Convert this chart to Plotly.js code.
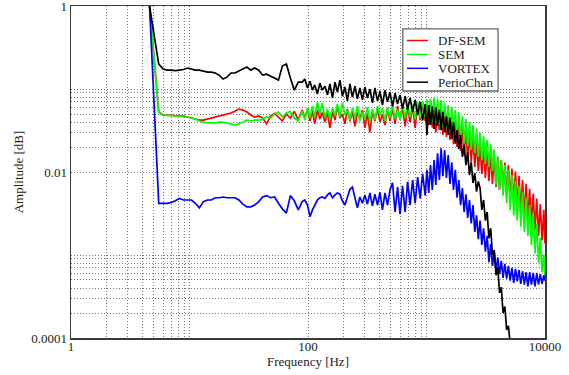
<!DOCTYPE html>
<html>
<head>
<meta charset="utf-8">
<script src="https://cdn.plot.ly/plotly-3.0.1.min.js"></script>
<style>
  html, body { margin: 0; padding: 0; background: #ffffff; }
  #chart { width: 569px; height: 375px; }
</style>
</head>
<body>
<div id="chart"></div>
<script>
// Frequency axis shared by all spectra [Hz]
const frequencies = [
  4.6, 5.5, 6.0, 6.5, 7.0, 7.6, 8.2, 8.9, 9.6, 10.4,
  11.2, 12.1, 13.1, 14.2, 15.3, 16.5, 17.8, 19.2, 20.7, 22.4,
  24.2, 26.1, 28.2, 30.5, 32.9, 35.5, 38.4, 41.4, 44.7, 48.3,
  52.2, 56.3, 60.8, 65.7, 71, 76.6, 82.8, 89.4,
  94, 99, 104, 109, 114, 120, 126, 132, 139, 146,
  153, 161, 169, 177, 186, 195, 205, 215, 226, 237,
  249, 261, 274, 288, 302, 317, 333, 350, 367, 386,
  405, 425, 446, 469, 492, 517, 543, 570, 598, 628,
  660, 693, 727, 764, 802, 842, 884, 928, 975,
  1009, 1044, 1081, 1119, 1158, 1198, 1240, 1284, 1329, 1375,
  1423, 1473, 1525, 1578, 1633, 1690, 1750, 1811, 1874, 1940,
  2008, 2078, 2151, 2226, 2304, 2385, 2468, 2555, 2644, 2736,
  2832, 2931, 3034, 3140, 3250, 3364, 3481, 3603, 3729, 3860,
  3995, 4135, 4279, 4429, 4584, 4745, 4911, 5083, 5260, 5445,
  5635, 5832, 6036, 6248, 6466, 6693, 6927, 7169, 7420, 7680,
  7949, 8227, 8515, 8813, 9121, 9441, 9771, 10000
];

// DF-SEM amplitude
const dfSem = [
  1.0, 0.0528, 0.0486, 0.0486, 0.0486, 0.048, 0.0473, 0.0473, 0.046, 0.0447,
  0.0435, 0.0423, 0.0423, 0.0435, 0.0447, 0.046, 0.0473, 0.0486, 0.050, 0.0514,
  0.054, 0.0574, 0.0558, 0.0528, 0.0486, 0.046, 0.0473, 0.0447, 0.038, 0.0473,
  0.051, 0.046, 0.0412, 0.050, 0.0447, 0.054, 0.0423, 0.0558,
  0.0447, 0.0574, 0.0412, 0.054, 0.038, 0.0558, 0.0435, 0.052, 0.040, 0.0528,
  0.0341, 0.054, 0.0423, 0.0624, 0.0447, 0.0500, 0.038, 0.0574, 0.0412, 0.054,
  0.0355, 0.0528, 0.044, 0.0558, 0.0341, 0.051, 0.030, 0.054, 0.041, 0.059,
  0.040, 0.0498, 0.0368, 0.0574, 0.0412, 0.0606, 0.038, 0.0624, 0.043, 0.059,
  0.0355, 0.0641, 0.040, 0.0624, 0.0341, 0.066, 0.0423, 0.068, 0.0412,
  0.068, 0.0368, 0.070, 0.0341, 0.066, 0.030, 0.0624, 0.0321, 0.059, 0.0279,
  0.0558, 0.0264, 0.051, 0.0243, 0.0473, 0.0216, 0.0435, 0.020, 0.040, 0.018,
  0.0355, 0.016, 0.0333, 0.0144, 0.0296, 0.0131, 0.0264, 0.0115, 0.0234, 0.0103,
  0.0211, 0.0095, 0.0194, 0.0085, 0.0184, 0.0078, 0.0174, 0.0072, 0.016, 0.0066,
  0.0152, 0.0061, 0.0139, 0.0056, 0.013, 0.0052, 0.0121, 0.0046, 0.011, 0.0042,
  0.0101, 0.0038, 0.009, 0.0034, 0.008, 0.003, 0.0072, 0.0026, 0.0063, 0.0023,
  0.0055, 0.002, 0.0048, 0.0017, 0.0041, 0.0015, 0.0035, 0.00138
];

// SEM amplitude
const sem = [
  1.0, 0.0526, 0.0486, 0.0486, 0.0479, 0.0473, 0.0473, 0.046, 0.046, 0.0447,
  0.0435, 0.0412, 0.040, 0.039, 0.039, 0.039, 0.040, 0.040, 0.039, 0.038,
  0.0368, 0.038, 0.040, 0.0423, 0.0412, 0.0423, 0.0423, 0.0435, 0.046, 0.0447,
  0.050, 0.0528, 0.046, 0.0514, 0.054, 0.0447, 0.0412, 0.054,
  0.0423, 0.059, 0.0447, 0.0624, 0.046, 0.070, 0.050, 0.068, 0.0447, 0.0570,
  0.0435, 0.059, 0.0473, 0.066, 0.046, 0.068, 0.0486, 0.0560, 0.0423, 0.059,
  0.0447, 0.0624, 0.0412, 0.053, 0.0435, 0.0606, 0.040, 0.0574, 0.0423, 0.0624,
  0.0475, 0.059, 0.0412, 0.0606, 0.0447, 0.0641, 0.0435, 0.0570, 0.0423, 0.066,
  0.0447, 0.068, 0.046, 0.066, 0.0435, 0.070, 0.0447, 0.072, 0.046,
  0.0737, 0.0423, 0.076, 0.040, 0.078, 0.039, 0.076, 0.0368, 0.0737, 0.0345,
  0.068, 0.0333, 0.0641, 0.0304, 0.0606, 0.0287, 0.0558, 0.0264, 0.0528, 0.0243,
  0.0473, 0.0223, 0.0435, 0.0205, 0.040, 0.0184, 0.0368, 0.017, 0.0333, 0.0152,
  0.0296, 0.0139, 0.0272, 0.0125, 0.0243, 0.0115, 0.0216, 0.0103, 0.0188, 0.007,
  0.0155, 0.0061, 0.0139, 0.0052, 0.0121, 0.0042, 0.0106, 0.0035, 0.0092, 0.003,
  0.0078, 0.0026, 0.0068, 0.0022, 0.0058, 0.0019, 0.0049, 0.0017, 0.004, 0.00132,
  0.0032, 0.00105, 0.0024, 0.0008, 0.0016, 0.00062, 0.00101, 0.00056
];

// VORTEX amplitude
const vortex = [
  1.0, 0.0042, 0.0042, 0.0042, 0.0043, 0.0045, 0.0048, 0.0046, 0.0046, 0.0046,
  0.0042, 0.0037, 0.0044, 0.0046, 0.0046, 0.0049, 0.0049, 0.005, 0.0049, 0.0049,
  0.0049, 0.0046, 0.0041, 0.0038, 0.0038, 0.004, 0.0044, 0.005, 0.0052, 0.0049,
  0.005, 0.0042, 0.0036, 0.0032, 0.0052, 0.0045, 0.0035, 0.0044,
  0.0046, 0.004, 0.0029, 0.0035, 0.004, 0.0046, 0.0049, 0.005, 0.0048, 0.0053,
  0.0056, 0.0049, 0.0053, 0.0056, 0.0054, 0.0045, 0.004, 0.0049, 0.0062, 0.0066,
  0.0048, 0.0037, 0.005, 0.0042, 0.0053, 0.0041, 0.0056, 0.0039, 0.0054, 0.004,
  0.0057, 0.0035, 0.0056, 0.004, 0.0061, 0.0074, 0.0033, 0.0066, 0.0031, 0.0068,
  0.0033, 0.0076, 0.004, 0.008, 0.0042, 0.0087, 0.0048, 0.0095, 0.0052,
  0.0106, 0.0056, 0.0121, 0.0061, 0.0139, 0.007, 0.0168, 0.008, 0.0193, 0.0089,
  0.0184, 0.0085, 0.016, 0.0072, 0.0131, 0.0061, 0.0106, 0.0049, 0.008, 0.004,
  0.0064, 0.0033, 0.0054, 0.0028, 0.0046, 0.0024, 0.004, 0.0019, 0.003, 0.00155,
  0.0026, 0.00132, 0.0021, 0.0011, 0.0017, 0.00082, 0.00135, 0.00074, 0.0011, 0.00064,
  0.00094, 0.00059, 0.00085, 0.00053, 0.00078, 0.00052, 0.00074, 0.00049, 0.0007, 0.00046,
  0.00068, 0.00048, 0.00066, 0.00045, 0.00064, 0.00044, 0.00062, 0.00042, 0.00062, 0.00044,
  0.00061, 0.00042, 0.00061, 0.00044, 0.00059, 0.00045, 0.00057, 0.00049
];

// PerioChan amplitude (falls below the plotted range above ~5 kHz)
const perioChan = [
  1.0, 0.2, 0.174, 0.169, 0.169, 0.167, 0.169, 0.172, 0.179, 0.174,
  0.169, 0.169, 0.165, 0.16, 0.16, 0.156, 0.147, 0.132, 0.139, 0.156,
  0.156, 0.165, 0.174, 0.184, 0.169, 0.179, 0.169, 0.147, 0.151, 0.143,
  0.136, 0.128, 0.189, 0.2, 0.136, 0.097, 0.121, 0.121,
  0.132, 0.103, 0.124, 0.097, 0.112, 0.087, 0.118, 0.097, 0.108, 0.085,
  0.115, 0.078, 0.121, 0.092, 0.128, 0.082, 0.106, 0.072, 0.115, 0.08,
  0.108, 0.076, 0.103, 0.074, 0.106, 0.078, 0.1, 0.068, 0.103, 0.072,
  0.094, 0.064, 0.097, 0.07, 0.092, 0.062, 0.089, 0.066, 0.085, 0.058,
  0.082, 0.056, 0.078, 0.053, 0.074, 0.049, 0.07, 0.042, 0.066,
  0.028, 0.064, 0.037, 0.062, 0.033, 0.06, 0.036, 0.056, 0.032, 0.053,
  0.030, 0.047, 0.028, 0.045, 0.025, 0.04, 0.022, 0.032, 0.019, 0.028,
  0.0152, 0.021, 0.0121, 0.0174, 0.0092, 0.0131, 0.0074, 0.0097, 0.0058, 0.0077,
  0.0064, 0.0035, 0.0046, 0.0026, 0.0033, 0.00159, 0.0021, 0.001, 0.00115, 0.00057,
  0.00071, 0.00035, 0.00041, 0.0002, 0.00024, 0.000125, 0.00014, 0.000085, null, null,
  null, null, null, null, null, null, null, null, null, null,
  null, null, null, null, null, null, null, null
];

const seriesNames = ['DF-SEM', 'SEM', 'VORTEX', 'PerioChan'];
const seriesColors = ['#ff0000', '#00ff00', '#0000ff', '#000000'];

// Grid positions and labels
const xTickValues = [1, 2, 3, 4, 5, 6, 7, 8, 9, 10,
                     100, 200, 300, 400, 500, 600, 700, 800, 900, 1000, 10000];
const xTickLabels = ['1', '', '', '', '', '', '', '', '', '',
                     '100', '', '', '', '', '', '', '', '', '', '10000'];
const yTickValues = [0.0001, 0.0002, 0.0003, 0.0004, 0.0005, 0.0006, 0.0007, 0.0008, 0.0009, 0.001,
                     0.01, 0.02, 0.03, 0.04, 0.05, 0.06, 0.07, 0.08, 0.09, 0.1, 1];
const yTickLabels = ['0.0001', '', '', '', '', '', '', '', '', '',
                     '0.01', '', '', '', '', '', '', '', '', '', '1'];

const seriesValues = [dfSem, sem, vortex, perioChan];

const serif = 'Liberation Serif, Times New Roman, serif';

const traces = seriesValues.map((vals, i) => ({
  type: 'scatter',
  mode: 'lines',
  name: seriesNames[i],
  x: frequencies,
  y: vals,
  line: { color: seriesColors[i], width: 1.7 },
  connectgaps: false,
  showlegend: false,
  hoverinfo: 'skip'
}));

// Legend box in the upper right corner of the plot area (paper coordinates)
const legendBox = { x0: 0.700, x1: 0.901, y0: 0.744, y1: 0.931 };
const legendRows = [0.8961, 0.8542, 0.8123, 0.7705];
const legendLine = { x0: 0.7089, x1: 0.7532 };
const legendTextX = 0.7722;

const shapes = [{
  type: 'rect', xref: 'paper', yref: 'paper',
  x0: legendBox.x0, x1: legendBox.x1, y0: legendBox.y0, y1: legendBox.y1,
  fillcolor: '#ffffff', line: { color: '#666666', width: 1.3 }, layer: 'above'
}];
const annotations = [];
seriesNames.forEach((name, i) => {
  shapes.push({
    type: 'line', xref: 'paper', yref: 'paper',
    x0: legendLine.x0, x1: legendLine.x1, y0: legendRows[i], y1: legendRows[i],
    line: { color: seriesColors[i], width: 1.5 }, layer: 'above'
  });
  annotations.push({
    xref: 'paper', yref: 'paper', x: legendTextX, y: legendRows[i],
    xanchor: 'left', yanchor: 'middle', showarrow: false,
    height: 13, valign: 'middle', borderpad: 0,
    text: name, font: { family: serif, size: 13, color: '#222222' }
  });
});

const axisCommon = {
  type: 'log',
  showgrid: true,
  gridcolor: '#7a7a7a',
  gridwidth: 1,
  griddash: '1px,2px',
  showline: true,
  mirror: true,
  linecolor: '#3a3a3a',
  linewidth: 1.5,
  ticks: '',
  zeroline: false,
  tickmode: 'array',
  ticklabeloverflow: 'allow',
  tickfont: { family: serif, size: 13, color: '#222222' }
};

const layout = {
  width: 569,
  height: 375,
  margin: { l: 71, r: 24, t: 6, b: 37 },
  paper_bgcolor: '#ffffff',
  plot_bgcolor: '#ffffff',
  showlegend: false,
  xaxis: Object.assign({}, axisCommon, {
    range: [0, 4],
    tickvals: xTickValues,
    ticktext: xTickLabels,
    ticklabelstandoff: -4,
    title: { text: 'Frequency [Hz]', font: { family: serif, size: 13, color: '#222222' }, standoff: 3 }
  }),
  yaxis: Object.assign({}, axisCommon, {
    range: [-4, 0.0005],
    tickvals: yTickValues,
    ticktext: yTickLabels,
    title: { text: 'Amplitude [dB]', font: { family: serif, size: 13, color: '#222222' }, standoff: 4 }
  }),
  shapes: shapes,
  annotations: annotations
};

Plotly.newPlot('chart', traces, layout, { displayModeBar: false, staticPlot: true });
</script>
</body>
</html>
